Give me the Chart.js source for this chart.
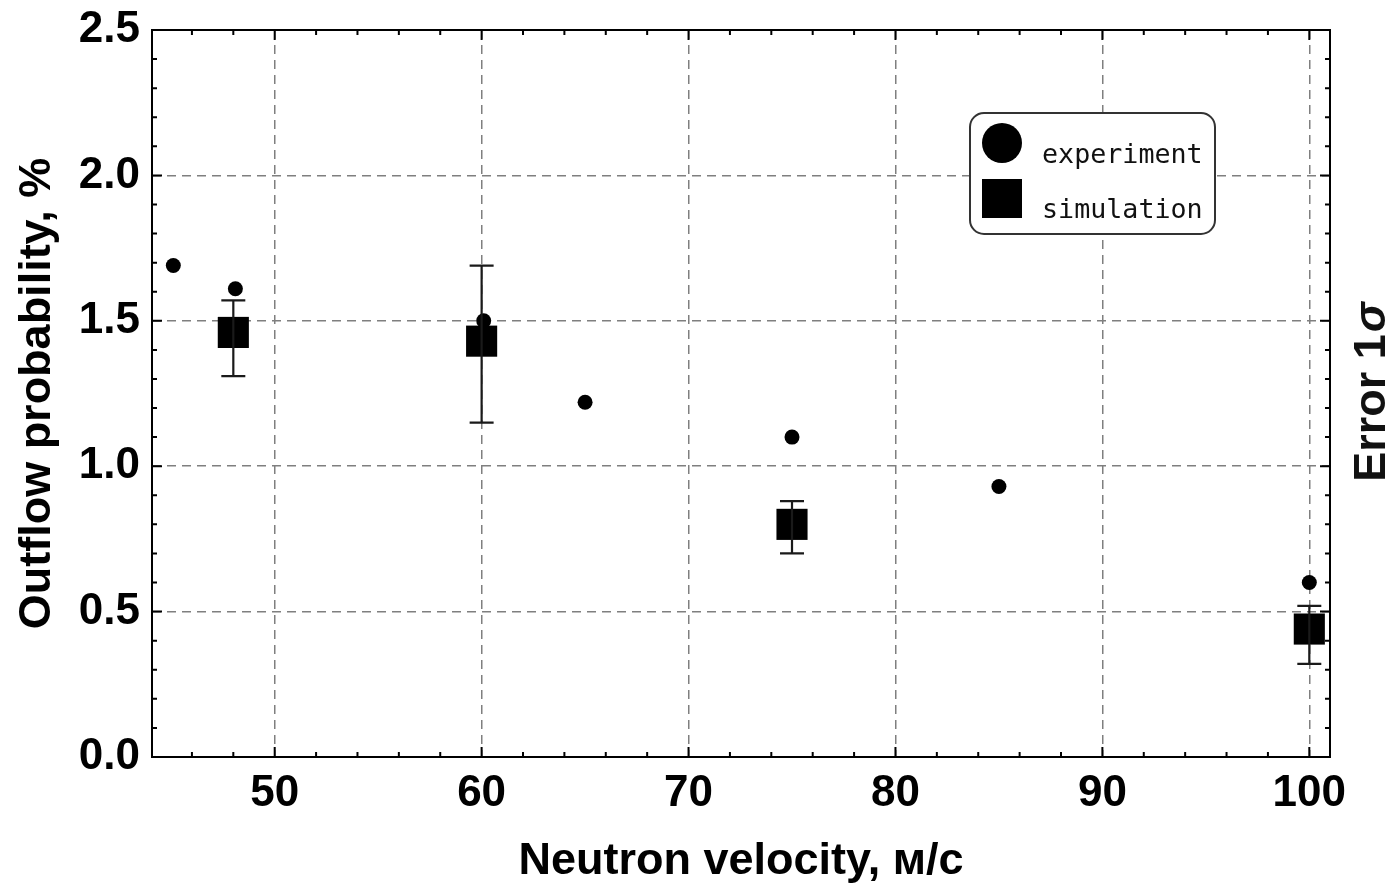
<!DOCTYPE html>
<html>
<head>
<meta charset="utf-8">
<script src="https://cdn.jsdelivr.net/npm/chart.js@4/dist/chart.umd.min.js"></script>
<style>
  body { margin: 0; background: #fff; }
  #wrap { width: 1391px; height: 884px; position: relative; }
</style>
</head>
<body>
<div id="wrap"><canvas id="myChart"></canvas></div>
<script>
// experiment points
var velocityExp = [45.1, 48.1, 60.1, 65, 75, 85, 100];
var outflowExp = [1.69, 1.61, 1.50, 1.22, 1.10, 0.93, 0.60];

// simulation points with 1 sigma error
var velocitySim = [48, 60, 75, 100];
var outflowSim = [1.46, 1.43, 0.80, 0.44];
var simErrHigh = [1.57, 1.69, 0.88, 0.52];
var simErrLow = [1.31, 1.15, 0.70, 0.32];

var seriesLabels = ["experiment", "simulation"];

var FONT = "'Liberation Sans', Arial, sans-serif";

var expData = velocityExp.map(function(v, i) { return { x: v, y: outflowExp[i] }; });
var simData = velocitySim.map(function(v, i) {
	return { x: v, y: outflowSim[i], yMin: simErrLow[i], yMax: simErrHigh[i] };
});

// error bars for the simulation dataset
var errorBars = {
	id: "errorBars",
	afterDatasetsDraw: function(chart) {
		var ctx = chart.ctx, xs = chart.scales.x, ys = chart.scales.y;
		ctx.save();
		ctx.strokeStyle = "#1a1a1a";
		ctx.lineWidth = 2.2;
		chart.data.datasets[1].data.forEach(function(p) {
			var px = xs.getPixelForValue(p.x);
			var top = ys.getPixelForValue(p.yMax);
			var bot = ys.getPixelForValue(p.yMin);
			ctx.beginPath();
			ctx.moveTo(px, top); ctx.lineTo(px, bot);
			ctx.moveTo(px - 12, top); ctx.lineTo(px + 12, top);
			ctx.moveTo(px - 12, bot); ctx.lineTo(px + 12, bot);
			ctx.stroke();
		});
		ctx.restore();
	}
};

// frame with inward ticks, legend box and right title
var frame = {
	id: "frame",
	afterDraw: function(chart) {
		var ctx = chart.ctx, a = chart.chartArea;
		var xs = chart.scales.x, ys = chart.scales.y;
		ctx.save();
		ctx.strokeStyle = "#000";
		ctx.lineWidth = 2;
		ctx.strokeRect(a.left, a.top, a.right - a.left, a.bottom - a.top);

		ctx.beginPath();
		for (var v = 46; v <= 100; v += 2) {
			var px = xs.getPixelForValue(v);
			var len = (v % 10 === 0) ? 10 : 5;
			ctx.moveTo(px, a.bottom); ctx.lineTo(px, a.bottom - len);
			ctx.moveTo(px, a.top); ctx.lineTo(px, a.top + len);
		}
		for (var k = 1; k < 25; k++) {
			var py = ys.getPixelForValue(k / 10);
			var l2 = (k % 5 === 0) ? 10 : 5;
			ctx.moveTo(a.left, py); ctx.lineTo(a.left + l2, py);
			ctx.moveTo(a.right, py); ctx.lineTo(a.right - l2, py);
		}
		ctx.stroke();

		// legend
		var bx = 970, by = 113, bw = 245, bh = 121, r = 14;
		ctx.beginPath();
		ctx.moveTo(bx + r, by);
		ctx.arcTo(bx + bw, by, bx + bw, by + bh, r);
		ctx.arcTo(bx + bw, by + bh, bx, by + bh, r);
		ctx.arcTo(bx, by + bh, bx, by, r);
		ctx.arcTo(bx, by, bx + bw, by, r);
		ctx.closePath();
		ctx.fillStyle = "#fff";
		ctx.fill();
		ctx.strokeStyle = "#333";
		ctx.lineWidth = 2;
		ctx.stroke();

		ctx.fillStyle = "#000";
		ctx.beginPath();
		ctx.arc(1002, 143, 20, 0, Math.PI * 2);
		ctx.fill();
		ctx.fillRect(982, 179, 40, 39);

		ctx.font = "26.7px 'DejaVu Sans Mono', monospace";
		ctx.textBaseline = "alphabetic";
		ctx.textAlign = "left";
		ctx.fillStyle = "#111";
		ctx.fillText(seriesLabels[0], 1042, 163);
		ctx.fillText(seriesLabels[1], 1042, 218);

		// right axis title
		ctx.translate(1385, 393);
		ctx.rotate(-Math.PI / 2);
		ctx.font = "bold 45px " + FONT;
		var w1 = ctx.measureText("Error 1").width;
		ctx.font = "italic bold 45px " + FONT;
		var w2 = ctx.measureText("σ").width;
		var sx = -(w1 + w2) / 2;
		ctx.textBaseline = "alphabetic";
		ctx.font = "bold 45px " + FONT;
		ctx.fillText("Error 1", sx, 0);
		ctx.font = "italic bold 45px " + FONT;
		ctx.fillText("σ", sx + w1 + 2, 0);
		ctx.restore();
	}
};

var ctx = document.getElementById("myChart").getContext("2d");
var myChart = new Chart(ctx, {
	type: "scatter",
	data: {
		datasets: [
			{
				label: seriesLabels[0],
				data: expData,
				pointStyle: "circle",
				pointRadius: 7.5,
				pointHoverRadius: 7.5,
				pointBorderWidth: 0,
				backgroundColor: "#000",
				borderColor: "#000",
				order: 1
			},
			{
				label: seriesLabels[1],
				data: simData,
				pointStyle: "rect",
				pointRadius: 22,
				pointHoverRadius: 22,
				pointBorderWidth: 0,
				backgroundColor: "#000",
				borderColor: "#000",
				order: 0
			}
		]
	},
	options: {
		responsive: true,
		maintainAspectRatio: false,
		animation: false,
		layout: { padding: { top: 30, right: 61, left: 0, bottom: 0 } },
		plugins: {
			legend: { display: false },
			tooltip: { enabled: false }
		},
		scales: {
			x: {
				type: "linear",
				min: 44.07,
				max: 101,
				afterFit: function(s) { s.height = 127; s.paddingLeft = 0; s.paddingRight = 0; },
				ticks: {
					stepSize: 10,
					includeBounds: false,
					color: "#000",
					padding: 10,
					font: { family: FONT, size: 44, weight: "bold" }
				},
				grid: { color: "#7f7f7f", lineWidth: 1.5, drawTicks: false },
				border: { display: false, dash: [9, 6] },
				title: {
					display: true,
					text: "Neutron velocity, м/с",
					color: "#000",
					padding: { top: 0, bottom: -5 },
					font: { family: FONT, size: 45, weight: "bold" }
				}
			},
			y: {
				min: 0,
				max: 2.5,
				afterFit: function(s) { s.width = 152; s.paddingTop = 0; s.paddingBottom = 0; },
				ticks: {
					stepSize: 0.5,
					color: "#000",
					padding: 12,
					font: { family: FONT, size: 44, weight: "bold" },
					callback: function(v) { return v.toFixed(1); }
				},
				grid: { color: "#7f7f7f", lineWidth: 1.5, drawTicks: false },
				border: { display: false, dash: [9, 6] },
				title: {
					display: true,
					text: "Outflow probability, %",
					color: "#000",
					padding: { top: 11, bottom: 0 },
					font: { family: FONT, size: 45, weight: "bold" }
				}
			}
		}
	},
	plugins: [errorBars, frame]
});
</script>
</body>
</html>
